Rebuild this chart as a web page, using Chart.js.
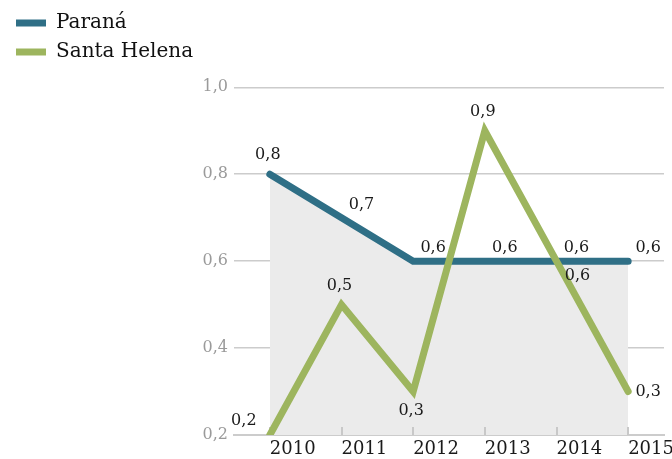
<!DOCTYPE html>
<html>
<head>
<meta charset="utf-8">
<script src="https://cdn.jsdelivr.net/npm/chart.js@4/dist/chart.umd.min.js"></script>
<style>
    html, body { margin: 0; padding: 0; background: #ffffff; }
    #wrap { width: 672px; height: 459px; position: relative; }
</style>
</head>
<body>
<div id="wrap"><canvas id="lineCanvas"></canvas></div>
<script>
const years = ["2010", "2011", "2012", "2013", "2014", "2015"];
const parana = [0.8, 0.7, 0.6, 0.6, 0.6, 0.6];
const santaHelena = [0.2, 0.5, 0.3, 0.9, 0.6, 0.3];
const yTicks = [0.2, 0.4, 0.6, 0.8, 1.0];

// where each value label sits relative to its point
const paranaLabelPos = ["top", "right-up", "right-up", "right-up", "right-up", "right-up"];
const santaLabelPos = ["left-up", "top", "bottom", "top", "right-down", "right"];
const labelOffsets = {
    "top": [-2, -19],
    "bottom": [-2, 19],
    "right-up": [20, -13],
    "right-down": [21, 15],
    "right": [20, 0],
    "left-up": [-26, -14]
};

const serif = "'DejaVu Serif', serif";

function fmt(v) {
    return v.toFixed(1).replace(".", ",");
}

// small tick marks standing up from the x axis, over the grey fill but under the lines
const innerTicks = {
    id: "innerTicks",
    beforeDatasetsDraw(chart) {
        const ctx = chart.ctx;
        const x = chart.scales.x;
        const bottom = chart.chartArea.bottom;
        ctx.save();
        ctx.strokeStyle = "#c8c8c8";
        ctx.lineWidth = 2;
        x.ticks.forEach((t, i) => {
            const px = Math.round(x.getPixelForTick(i));
            ctx.beginPath();
            ctx.moveTo(px, bottom);
            ctx.lineTo(px, bottom - 8);
            ctx.stroke();
        });
        ctx.restore();
    }
};

const valueLabels = {
    id: "valueLabels",
    afterDatasetsDraw(chart) {
        const ctx = chart.ctx;
        ctx.save();
        ctx.font = "16px " + serif;
        ctx.fillStyle = "#1a1a1a";
        ctx.textAlign = "center";
        ctx.textBaseline = "middle";
        chart.data.datasets.forEach((ds, i) => {
            const meta = chart.getDatasetMeta(i);
            meta.data.forEach((pt, j) => {
                const off = labelOffsets[ds.labelPos[j]];
                ctx.fillText(fmt(ds.data[j]), pt.x + off[0], pt.y + off[1]);
            });
        });
        ctx.restore();
    }
};

document.addEventListener("DOMContentLoaded", function () {
    const lineCanvas = document.getElementById("lineCanvas");

    new Chart(lineCanvas, {
        type: "line",
        data: {
            labels: years,
            datasets: [{
                label: "Paraná",
                data: parana,
                labelPos: paranaLabelPos,
                borderColor: "#2f6f86",
                backgroundColor: "#ebebeb",
                borderWidth: 7,
                borderCapStyle: "round",
                borderJoinStyle: "miter",
                fill: "start",
                tension: 0,
                pointRadius: 0,
                order: 2
            }, {
                label: "Santa Helena",
                data: santaHelena,
                labelPos: santaLabelPos,
                borderColor: "#9db55e",
                backgroundColor: "#9db55e",
                borderWidth: 7,
                borderCapStyle: "round",
                borderJoinStyle: "miter",
                fill: false,
                tension: 0,
                pointRadius: 0,
                order: 1
            }]
        },
        options: {
            responsive: true,
            maintainAspectRatio: false,
            animation: false,
            layout: { padding: { left: 7, top: 4, right: 8, bottom: 0 } },
            plugins: {
                filler: { drawTime: "beforeDatasetsDraw" },
                tooltip: { enabled: false },
                legend: {
                    position: "left",
                    align: "start",
                    maxWidth: 191,
                    labels: {
                        color: "#111",
                        font: { family: serif, size: 20 },
                        boxWidth: 30,
                        boxHeight: 7,
                        padding: 9,
                        useBorderRadius: true,
                        borderRadius: 3.5,
                        generateLabels(chart) {
                            return chart.data.datasets.map((ds, i) => ({
                                text: ds.label,
                                fillStyle: ds.borderColor,
                                strokeStyle: ds.borderColor,
                                lineWidth: 0,
                                fontColor: "#111",
                                datasetIndex: i
                            }));
                        }
                    }
                }
            },
            scales: {
                x: {
                    offset: true,
                    border: { display: true, color: "#cccccc", width: 2 },
                    grid: { display: false, drawTicks: false },
                    ticks: {
                        align: "start",
                        color: "#1a1a1a",
                        font: { family: serif, size: 18 },
                        padding: 4,
                        maxRotation: 0,
                        autoSkip: false
                    },
                    afterFit(scale) {
                        scale.height = 24;
                        scale.paddingLeft = 0;
                        scale.paddingRight = 0;
                    }
                },
                y: {
                    min: 0.2,
                    max: 1.165,
                    border: { display: false },
                    grid: { color: "#cccccc", lineWidth: 1.5, drawTicks: false },
                    afterBuildTicks(scale) {
                        scale.ticks = yTicks.map(v => ({ value: v }));
                    },
                    ticks: {
                        color: "#9a9a9a",
                        font: { family: serif, size: 16 },
                        padding: 6,
                        callback: v => fmt(v)
                    },
                    afterFit(scale) { scale.width = 36; }
                }
            }
        },
        plugins: [innerTicks, valueLabels]
    });
});
</script>
</body>
</html>
